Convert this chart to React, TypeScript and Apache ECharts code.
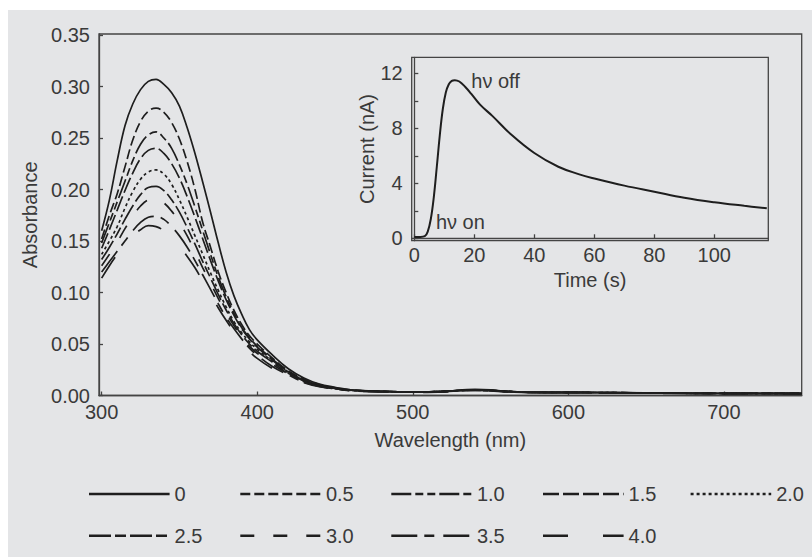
import React, { useEffect, useRef } from "react";
import * as echarts from "echarts";

// ---------- data ----------
const wavelengths = [300, 305, 310, 315, 320, 325, 330, 335, 340, 345, 350, 355, 360, 365, 370, 375, 380, 385, 390, 395, 400, 410, 420, 430, 440, 450, 460, 480, 500, 520, 540, 550, 560, 580, 600, 650, 700, 750];

const seriesNames = ["0", "0.5", "1.0", "1.5", "2.0", "2.5", "3.0", "3.5", "4.0"];

const abs0 = [0.160, 0.190, 0.228, 0.262, 0.283, 0.297, 0.305, 0.307, 0.302, 0.294, 0.281, 0.260, 0.235, 0.207, 0.178, 0.148, 0.120, 0.097, 0.079, 0.064, 0.054, 0.039, 0.026, 0.017, 0.011, 0.008, 0.0055, 0.004, 0.0035, 0.004, 0.006, 0.0055, 0.004, 0.003, 0.003, 0.0025, 0.002, 0.002];
const abs05 = [0.152, 0.175, 0.196, 0.222, 0.248, 0.266, 0.276, 0.279, 0.275, 0.265, 0.249, 0.227, 0.200, 0.168, 0.144, 0.120, 0.100, 0.083, 0.069, 0.058, 0.050, 0.036, 0.024, 0.016, 0.0105, 0.0075, 0.0055, 0.004, 0.0035, 0.004, 0.0055, 0.005, 0.004, 0.003, 0.003, 0.0025, 0.002, 0.002];
const abs10 = [0.148, 0.168, 0.188, 0.208, 0.228, 0.244, 0.253, 0.256, 0.250, 0.240, 0.224, 0.205, 0.183, 0.160, 0.137, 0.115, 0.096, 0.080, 0.066, 0.056, 0.048, 0.035, 0.023, 0.015, 0.010, 0.0072, 0.0053, 0.004, 0.0035, 0.004, 0.0055, 0.005, 0.004, 0.003, 0.003, 0.0025, 0.002, 0.002];
const abs15 = [0.143, 0.161, 0.180, 0.199, 0.216, 0.230, 0.238, 0.240, 0.235, 0.225, 0.211, 0.193, 0.173, 0.152, 0.131, 0.111, 0.093, 0.078, 0.065, 0.055, 0.047, 0.034, 0.023, 0.015, 0.010, 0.007, 0.0052, 0.004, 0.0035, 0.004, 0.0055, 0.005, 0.004, 0.003, 0.003, 0.0025, 0.002, 0.002];
const abs20 = [0.137, 0.150, 0.164, 0.182, 0.198, 0.210, 0.217, 0.219, 0.215, 0.205, 0.190, 0.173, 0.155, 0.137, 0.119, 0.102, 0.086, 0.072, 0.061, 0.052, 0.045, 0.033, 0.022, 0.0145, 0.0095, 0.007, 0.005, 0.004, 0.0035, 0.004, 0.0055, 0.005, 0.004, 0.003, 0.003, 0.0025, 0.002, 0.002];
const abs25 = [0.132, 0.144, 0.157, 0.171, 0.184, 0.195, 0.202, 0.203, 0.199, 0.190, 0.178, 0.163, 0.147, 0.130, 0.114, 0.098, 0.083, 0.070, 0.059, 0.050, 0.043, 0.032, 0.0215, 0.014, 0.0092, 0.0068, 0.005, 0.004, 0.0035, 0.004, 0.0052, 0.005, 0.004, 0.003, 0.003, 0.0025, 0.002, 0.002];
const abs30 = [0.126, 0.137, 0.149, 0.162, 0.174, 0.184, 0.190, 0.191, 0.187, 0.179, 0.168, 0.155, 0.140, 0.124, 0.109, 0.094, 0.080, 0.068, 0.057, 0.048, 0.041, 0.030, 0.021, 0.0135, 0.009, 0.0066, 0.0048, 0.0038, 0.0033, 0.0038, 0.005, 0.0048, 0.0038, 0.003, 0.0028, 0.0024, 0.002, 0.0018];
const abs35 = [0.120, 0.130, 0.140, 0.150, 0.160, 0.168, 0.173, 0.174, 0.171, 0.164, 0.155, 0.144, 0.131, 0.117, 0.103, 0.089, 0.076, 0.065, 0.055, 0.046, 0.039, 0.028, 0.020, 0.013, 0.0088, 0.0064, 0.0047, 0.0037, 0.0033, 0.0037, 0.005, 0.0046, 0.0036, 0.0029, 0.0027, 0.0023, 0.0019, 0.0017];
const abs40 = [0.114, 0.126, 0.137, 0.147, 0.155, 0.161, 0.165, 0.164, 0.160, 0.153, 0.145, 0.135, 0.124, 0.111, 0.098, 0.085, 0.073, 0.062, 0.052, 0.043, 0.036, 0.026, 0.019, 0.0125, 0.0085, 0.0062, 0.0046, 0.0036, 0.003, 0.0035, 0.0048, 0.0045, 0.0035, 0.0028, 0.0026, 0.0022, 0.0018, 0.0016];

const absorbanceSeries = [abs0, abs05, abs10, abs15, abs20, abs25, abs30, abs35, abs40];

const yTicks = [0, 0.05, 0.1, 0.15, 0.2, 0.25, 0.3, 0.35];
const xTicks = [300, 400, 500, 600, 700];

// inset: photocurrent
const timeS = [0, 2, 3.5, 4.5, 5.5, 6.5, 7.5, 8.5, 9.5, 10.5, 11.5, 12.5, 13.5, 15, 17, 19, 22, 26, 32, 40, 48, 55, 60, 70, 80, 90, 100, 110, 117.5];
const currentNA = [0.1, 0.1, 0.15, 0.5, 1.4, 3.0, 5.2, 7.5, 9.4, 10.6, 11.2, 11.45, 11.5, 11.4, 11.0, 10.5, 9.7, 8.9, 7.6, 6.2, 5.2, 4.65, 4.35, 3.83, 3.39, 2.95, 2.62, 2.36, 2.18];
const insetYLabels = [0, 4, 8, 12];
const insetYTicks = [0, 2, 4, 6, 8, 10, 12];
const insetXTicks = [0, 20, 40, 60, 80, 100];

const annotationTexts = ["hν off", "hν on"];
const annotationTimes = [19, 7.2];
const annotationCurrents = [11.45, 1.2];

// ---------- styles ----------
const dashTypes: any[] = ["solid", [10, 4], [20, 4, 8, 4, 8, 4], [16, 4], [3, 3], [22, 4, 11, 4], [14, 19], [26, 7, 10, 9], [25, 35]];
const legendCols = [79.7, 231, 382, 533.7, 681.3];
const legendRows = [474, 515.7];

const FONT = "Liberation Sans, Arial, Helvetica, sans-serif";
const TEXT = "#3a3a3a";
const LINE = "#1e1e1e";
const AXIS = "#444";
const BG = "#e4e5e7";
const FS = 20;

export default function App() {
  const ref = useRef<HTMLDivElement>(null);
  useEffect(() => {
    if (!ref.current) return;
    const chart = echarts.init(ref.current, undefined, { renderer: "svg" });

    const mainSeries = seriesNames.map((name, k) => ({
      name,
      type: "line",
      xAxisIndex: 0,
      yAxisIndex: 0,
      symbol: "none",
      smooth: 0.4,
      lineStyle: { color: LINE, width: 1.7, type: dashTypes[k] },
      itemStyle: { color: LINE },
      data: wavelengths.map((w, i) => [w, absorbanceSeries[k][i]]),
      z: 3,
    }));

    const insetSeries = {
      name: "current",
      type: "line",
      xAxisIndex: 1,
      yAxisIndex: 1,
      symbol: "none",
      smooth: 0.4,
      lineStyle: { color: LINE, width: 2 },
      data: timeS.map((t, i) => [t, currentNA[i]]),
      markPoint: {
        symbol: "circle",
        symbolSize: 0,
        itemStyle: { color: "transparent" },
        label: {
          show: true,
          position: "right",
          distance: 0,
          formatter: "{b}",
          color: TEXT,
          fontSize: FS,
          fontFamily: FONT,
        },
        data: annotationTexts.map((txt, i) => ({
          name: txt,
          coord: [annotationTimes[i], annotationCurrents[i]],
        })),
      },
      z: 5,
    };

    const legends = seriesNames.map((name, k) => ({
      data: [name],
      left: legendCols[k < 5 ? k : k - 5],
      top: legendRows[k < 5 ? 0 : 1],
      padding: 0,
      itemWidth: 80.6,
      itemHeight: 20,
      selectedMode: false,
      lineStyle: { width: 2.6 },
      itemStyle: { color: "transparent", borderWidth: 0, opacity: 0 },
      textStyle: { color: TEXT, fontSize: FS, fontFamily: FONT, lineHeight: 20 },
    }));

    const axisLabel = { color: TEXT, fontSize: FS, fontFamily: FONT };

    chart.setOption({
      animation: false,
      backgroundColor: BG,
      textStyle: { fontFamily: FONT },
      legend: legends,
      grid: [
        { left: 91, top: 24, width: 702.7, height: 361.5, show: true, borderColor: AXIS, borderWidth: 1.3, backgroundColor: "transparent" },
        { left: 403.7, top: 47.3, width: 356.6, height: 183.4, show: true, borderColor: AXIS, borderWidth: 1.3, backgroundColor: BG, z: 4 },
      ],
      xAxis: [
        {
          type: "value",
          gridIndex: 0,
          min: 298.3,
          max: 750,
          name: "Wavelength (nm)",
          nameLocation: "middle",
          nameGap: 34,
          nameTextStyle: { color: TEXT, fontSize: FS, fontFamily: FONT },
          axisLine: { show: true, lineStyle: { color: AXIS, width: 1.3 } },
          axisTick: { show: true, inside: true, length: 4, customValues: xTicks, lineStyle: { color: AXIS, width: 1.3 } },
          axisLabel: { ...axisLabel, margin: 6, customValues: xTicks, formatter: (v: number) => String(v) },
          splitLine: { show: false },
        },
        {
          type: "value",
          gridIndex: 1,
          min: -0.87,
          max: 118,
          name: "Time (s)",
          nameLocation: "middle",
          nameGap: 29,
          nameTextStyle: { color: TEXT, fontSize: FS, fontFamily: FONT },
          axisLine: { show: true, lineStyle: { color: AXIS, width: 1.3 } },
          axisTick: { show: true, inside: true, length: 4, customValues: insetXTicks, lineStyle: { color: AXIS, width: 1.3 } },
          axisLabel: { ...axisLabel, margin: 4, customValues: insetXTicks, formatter: (v: number) => String(v) },
          splitLine: { show: false },
          z: 5,
        },
      ],
      yAxis: [
        {
          type: "value",
          gridIndex: 0,
          min: 0,
          max: 0.351,
          name: "Absorbance",
          nameLocation: "middle",
          nameGap: 57,
          nameTextStyle: { color: TEXT, fontSize: FS, fontFamily: FONT },
          axisLine: { show: true, lineStyle: { color: AXIS, width: 1.3 } },
          axisTick: { show: true, inside: true, length: 4, customValues: yTicks, lineStyle: { color: AXIS, width: 1.3 } },
          axisLabel: { ...axisLabel, margin: 9, customValues: yTicks, formatter: (v: number) => v.toFixed(2) },
          splitLine: { show: false },
        },
        {
          type: "value",
          gridIndex: 1,
          min: -0.175,
          max: 13.16,
          name: "Current (nA)",
          nameLocation: "middle",
          nameGap: 33,
          nameTextStyle: { color: TEXT, fontSize: FS, fontFamily: FONT },
          axisLine: { show: true, lineStyle: { color: AXIS, width: 1.3 } },
          axisTick: { show: true, inside: true, length: 4, customValues: insetYTicks, lineStyle: { color: AXIS, width: 1.3 } },
          axisLabel: { ...axisLabel, margin: 9, customValues: insetYLabels, formatter: (v: number) => String(v) },
          splitLine: { show: false },
          z: 5,
        },
      ],
      series: [...mainSeries, insetSeries],
    });

    return () => chart.dispose();
  }, []);

  return (
    <div
      ref={ref}
      style={{ position: "absolute", left: 8, top: 10, width: 804, height: 547, background: BG }}
    />
  );
}
